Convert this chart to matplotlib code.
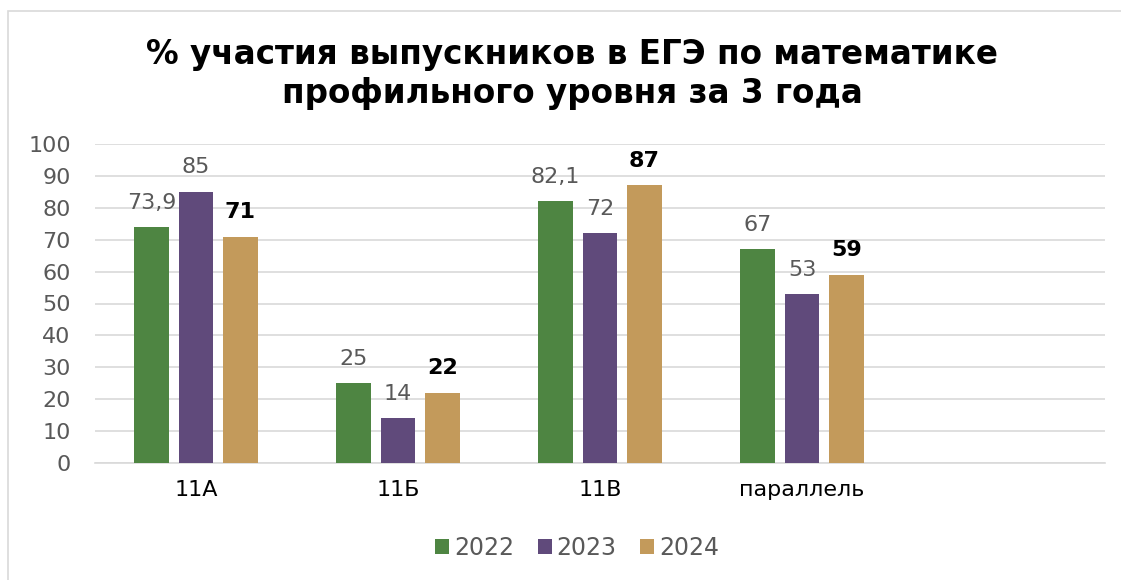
import numpy as np
import matplotlib.pyplot as plt
from matplotlib.patches import Rectangle

# data
categories = ['11А', '11Б', '11В', 'параллель', '']
years = ['2022', '2023', '2024']
vals_2022 = [73.9, 25, 82.1, 67, np.nan]
vals_2023 = [85, 14, 72, 53, np.nan]
vals_2024 = [71, 22, 87, 59, np.nan]
labels_2022 = ['73,9', '25', '82,1', '67']
labels_2023 = ['85', '14', '72', '53']
labels_2024 = ['71', '22', '87', '59']

colors = ['#4E8542', '#604A7B', '#C39A5B']
plt.rcParams['font.family'] = ['DejaVu Sans']

fig = plt.figure(figsize=(11.21, 5.80), dpi=100)
ax = fig.add_axes([95 / 1121, 1 - 463 / 580, 1010 / 1121, 319 / 580])

# chart frame (cropped on the right/bottom in the reference)
fig.patches.append(Rectangle((8 / 1121, -0.1), 1.2, 1 - 11 / 580 + 0.1,
                             transform=fig.transFigure, fill=False,
                             edgecolor='#D9D9D9', lw=1.2))

x = np.arange(len(categories))
w = 0.173
off = 0.22
series = [vals_2022, vals_2023, vals_2024]
texts = [labels_2022, labels_2023, labels_2024]
for i, (vals, lab, col) in enumerate(zip(series, texts, colors)):
    pos = x + (i - 1) * off
    ax.bar(pos, vals, w, color=col, label=years[i], zorder=3)
    for p, v, t in zip(pos, vals, lab):
        if i == 2:
            ax.text(p, v + 4.5, t, ha='center', va='bottom', fontsize=16,
                    fontweight='bold', color='black', zorder=4)
        else:
            ax.text(p, v + 4.5, t, ha='center', va='bottom', fontsize=16,
                    color='#595959', zorder=4)

ax.set_xlim(-0.5, len(categories) - 0.5)
ax.set_ylim(0, 100)
ax.set_yticks(range(0, 101, 10))
ax.yaxis.grid(True, color='#D9D9D9', lw=1.2, zorder=0)
ax.set_axisbelow(True)
for s in ['top', 'right', 'left']:
    ax.spines[s].set_visible(False)
ax.spines['bottom'].set_color('#D9D9D9')
ax.spines['bottom'].set_linewidth(1.2)
ax.tick_params(axis='y', length=0, labelsize=16, labelcolor='#595959', pad=17.5)
ax.tick_params(axis='x', length=0, labelsize=16, labelcolor='black', pad=12)
ax.set_xticks(x)
ax.set_xticklabels(categories)

fig.text(572 / 1121, 1 - 74 / 580, '% участия выпускников в ЕГЭ по математике\nпрофильного уровня за 3 года',
         ha='center', va='center', fontsize=23.5, fontweight='bold', linespacing=1.25)

fig.legend(loc='center', bbox_to_anchor=(577 / 1121, 1 - 548 / 580), ncol=3, frameon=False,
           fontsize=17, handlelength=0.6, handleheight=0.6, handletextpad=0.2,
           columnspacing=1.0, labelcolor='#595959')

fig.savefig('out.png', dpi=100)
